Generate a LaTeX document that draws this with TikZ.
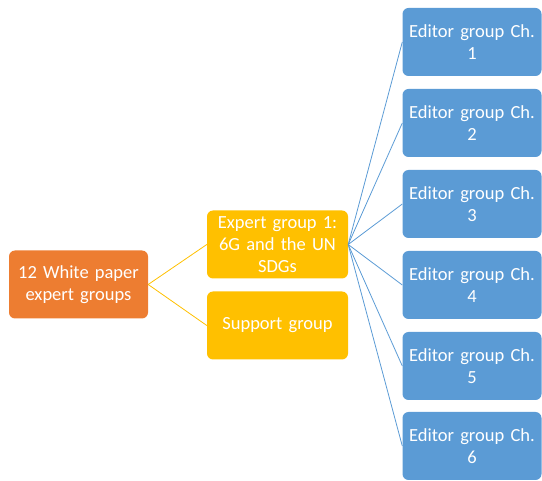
\documentclass[tikz,border=0pt]{standalone}
\usepackage{fontspec}
\setmainfont{Carlito}
\definecolor{borange}{HTML}{ED7D31}
\definecolor{byellow}{HTML}{FFC000}
\definecolor{bblue}{HTML}{5B9BD5}
\begin{document}
\begin{tikzpicture}[x=1pt,y=-1pt,
  box/.style={rounded corners=6pt, minimum width=139pt, minimum height=68pt, inner sep=1pt,
    text=white, align=center, font=\fontsize{18.5}{22}\selectfont, text width=137pt},
  orangebox/.style={box, fill=borange},
  yellowbox/.style={box, fill=byellow},
  bluebox/.style={box, fill=bblue},
  yline/.style={draw=byellow, line width=0.8pt},
  bline/.style={draw=bblue, line width=0.8pt}]
\useasboundingbox (0,0) rectangle (542,481);
\node[orangebox] (root) at (78.5,284.5) {12 White paper\\expert groups};
\node[yellowbox, minimum width=141pt, text width=139pt] (e1) at (277.5,244.5) {Expert group 1:\\6G and the UN\\SDGs};
\node[yellowbox, minimum width=141pt, text width=139pt] (sg) at (277.5,325.5) {Support group};
\node[bluebox] (c1) at (472,42) {Editor group Ch.\\1};
\node[bluebox] (c2) at (472,123) {Editor group Ch.\\2};
\node[bluebox] (c3) at (472,204) {Editor group Ch.\\3};
\node[bluebox] (c4) at (472,285) {Editor group Ch.\\4};
\node[bluebox] (c5) at (472,366) {Editor group Ch.\\5};
\node[bluebox] (c6) at (472,446) {Editor group Ch.\\6};
\draw[yline] (root.east) -- (e1.west);
\draw[yline] (root.east) -- (sg.west);
\foreach \c in {c1,c2,c3,c4,c5,c6}
  \draw[bline] (e1.east) -- (\c.west);
\end{tikzpicture}
\end{document}
